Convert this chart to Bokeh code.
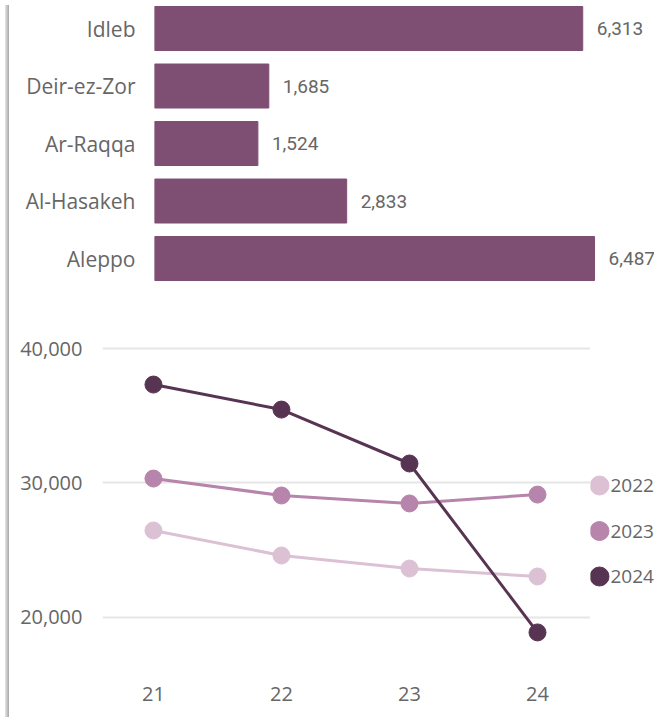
from bokeh.plotting import figure
from bokeh.models import (Range1d, FixedTicker, NumeralTickFormatter,
                          ColumnDataSource, Div)
from bokeh.layouts import row, column
from bokeh.core.properties import value
from bokeh.embed import file_html
from bokeh.resources import INLINE

# ---- data ----
governorates = ["Idleb", "Deir-ez-Zor", "Ar-Raqqa", "Al-Hasakeh", "Aleppo"]
cases = [6313, 1685, 1524, 2833, 6487]

weeks = [21, 22, 23, 24]
series_names = ["2022", "2023", "2024"]
s2022 = [26470, 24610, 23640, 23050]
s2023 = [30330, 29070, 28480, 29140]
s2024 = [37320, 35460, 31450, 18890]
y_ticks = [20000, 30000, 40000]

series_values = [s2022, s2023, s2024]
series_colors = ["#DCC1D5", "#B784AB", "#573552"]
BAR_COLOR = "#7E4F72"
LABEL_FONT = "Open Sans"
GRAY = "#666666"

# ---- bar chart ----
n = len(governorates)
ypos = [n - 1 - i for i in range(n)]
src = ColumnDataSource(dict(
    y=ypos, v=cases, name=governorates,
    lab=[f"{c:,}" for c in cases],
))

p1 = figure(width=640, height=300, output_backend="svg", toolbar_location=None,
            x_range=Range1d(0, 7371), y_range=Range1d(-0.730, 4.487),
            min_border_left=140, min_border_right=0, min_border_top=0, min_border_bottom=0,
            frame_align=False)
p1.hbar(y="y", right="v", left=0, height=0.765, color=BAR_COLOR, source=src)
p1.text(x="v", y="y", text="lab", source=src, x_offset=14, text_baseline="middle",
        text_align="left", text_font=value("Roboto"), text_font_size="19px",
        text_color=GRAY)
p1.xaxis.visible = False
p1.yaxis.ticker = FixedTicker(ticks=ypos)
p1.yaxis.major_label_overrides = {y: g for y, g in zip(ypos, governorates)}
p1.yaxis.axis_line_color = None
p1.yaxis.major_tick_line_color = None
p1.yaxis.minor_tick_line_color = None
p1.yaxis.major_tick_out = 0
p1.yaxis.major_tick_in = 0
p1.yaxis.major_label_standoff = 19
p1.yaxis.major_label_text_font = LABEL_FONT
p1.yaxis.major_label_text_font_size = "21px"
p1.yaxis.major_label_text_color = GRAY
p1.grid.visible = False
p1.outline_line_color = None

# ---- line chart ----
p2 = figure(width=576, height=412, output_backend="svg", toolbar_location=None,
            x_range=Range1d(20.602, 24.414), y_range=Range1d(15167, 43569),
            min_border_left=88, min_border_right=0, min_border_top=0, min_border_bottom=30,
            frame_align=False)
for vals, col in zip(series_values, series_colors):
    p2.line(weeks, vals, line_color=col, line_width=3)
    p2.scatter(weeks, vals, size=17, fill_color=col, line_color=col)

p2.xaxis.ticker = FixedTicker(ticks=weeks)
p2.yaxis.ticker = FixedTicker(ticks=y_ticks)
p2.yaxis.formatter = NumeralTickFormatter(format="0,0")
for ax in (p2.xaxis, p2.yaxis):
    ax.axis_line_color = None
    ax.major_tick_line_color = None
    ax.minor_tick_line_color = None
    ax.major_tick_out = 0
    ax.major_tick_in = 0
    ax.major_label_text_font = LABEL_FONT
    ax.major_label_text_font_size = "20px"
    ax.major_label_text_color = GRAY
p2.yaxis.major_label_standoff = 20
p2.xaxis.major_label_standoff = 4
p2.xgrid.visible = False
p2.ygrid.grid_line_color = "#E6E6E6"
p2.ygrid.grid_line_width = 2
p2.outline_line_color = None

# ---- legend (right of the line chart) ----
LEG_Y0, LEG_DY = 185, 45.5
leg_src = ColumnDataSource(dict(
    y=[LEG_Y0 + i * LEG_DY for i in range(len(series_names))],
    name=series_names, color=series_colors,
))
p3 = figure(width=64, height=412, output_backend="svg", toolbar_location=None,
            x_range=Range1d(0, 64), y_range=Range1d(412, 0),
            x_axis_location=None, y_axis_location=None,
            min_border_left=0, min_border_right=0, min_border_top=0, min_border_bottom=0,
            frame_align=False)
p3.scatter(x=9, y="y", size=19, fill_color="color", line_color="color", source=leg_src)
p3.text(x=20, y="y", text="name", source=leg_src, text_baseline="middle",
        text_align="left", text_font=value(LABEL_FONT), text_font_size="19px",
        text_color=GRAY)
p3.grid.visible = False
p3.outline_line_color = None

SHADOW = {"background": "linear-gradient(to right, #e6e6e6, #a6a6a6)"}
layout = row(Div(width=4, height=712, styles=SHADOW), column(p1, row(p2, p3)))

open("out.html", "w").write(file_html(layout, INLINE))
